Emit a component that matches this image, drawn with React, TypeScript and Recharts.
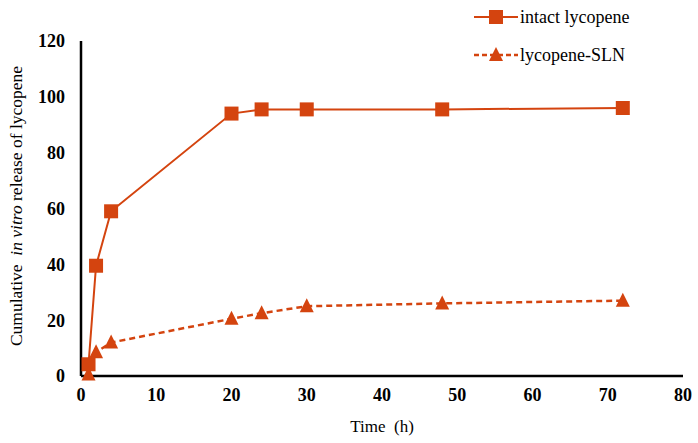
import React from "react";
import {
  LineChart,
  Line,
  XAxis,
  YAxis,
  Label,
} from "recharts";

const timeIntact = [1, 2, 4, 20, 24, 30, 48, 72];
const intactRelease = [4.2, 39.5, 59, 94, 95.5, 95.5, 95.5, 96];
const timeSln = [1, 2, 4, 20, 24, 30, 48, 72];
const slnRelease = [0.5, 8.5, 12, 20.5, 22.5, 25, 26, 27];
const xTicks = [0, 10, 20, 30, 40, 50, 60, 70, 80];
const yTicks = [0, 20, 40, 60, 80, 100, 120];

const COLOR = "#d4440f";
const SERIF = "'Liberation Serif', 'Times New Roman', serif";

const intactData = timeIntact.map((t, i) => ({ t, v: intactRelease[i] }));
const slnData = timeSln.map((t, i) => ({ t, v: slnRelease[i] }));

const SquareDot = (props: any) => {
  const { cx, cy } = props;
  if (cx == null || cy == null) return null;
  return <rect x={cx - 7} y={cy - 7} width={14} height={14} fill={COLOR} />;
};

const TriDot = (props: any) => {
  const { cx, cy } = props;
  if (cx == null || cy == null) return null;
  return (
    <path
      d={`M${cx},${cy - 8} L${cx + 7},${cy + 6} L${cx - 7},${cy + 6} Z`}
      fill={COLOR}
    />
  );
};

const LegendBox = () => (
  <div
    style={{
      position: "absolute",
      left: 474,
      top: 7,
      fontFamily: SERIF,
      fontSize: 18,
      color: "#000",
    }}
  >
    <div style={{ display: "flex", alignItems: "center", height: 20 }}>
      <svg width={44} height={20}>
        <line x1={0} y1={10} x2={44} y2={10} stroke={COLOR} strokeWidth={2} />
        <rect x={15} y={3} width={14} height={14} fill={COLOR} />
      </svg>
      <span style={{ marginLeft: 2 }}>intact lycopene</span>
    </div>
    <div style={{ display: "flex", alignItems: "center", height: 20, marginTop: 18 }}>
      <svg width={44} height={20}>
        <line x1={0} y1={10} x2={44} y2={10} stroke={COLOR} strokeWidth={2.5} strokeDasharray="5 3" />
        <path d="M22,2 L29,16 L15,16 Z" fill={COLOR} />
      </svg>
      <span style={{ marginLeft: 2 }}>lycopene-SLN</span>
    </div>
  </div>
);

const YTitle = () => (
  <text
    x={22}
    y={206}
    transform="rotate(-90 22 206)"
    textAnchor="middle"
    fontFamily={SERIF}
    fontSize={17.5}
    fill="#000"
  >
    <tspan>Cumulative{"\u00a0\u00a0"}</tspan>
    <tspan fontStyle="italic">in vitro</tspan>
    <tspan> release of lycopene</tspan>
  </text>
);

export default function App() {
  return (
    <div style={{ position: "absolute", left: 0, top: 0, background: "#fff", width: 698, height: 443 }}>
      <LineChart
        width={698}
        height={443}
        margin={{ top: 41, right: 15, left: 30, bottom: 37 }}
      >
        <XAxis
          dataKey="t"
          type="number"
          domain={[0, 80]}
          ticks={xTicks}
          tickLine={false}
          axisLine={{ stroke: "#000", strokeWidth: 2.5 }}
          height={30}
          tick={{ fill: "#000", fontFamily: SERIF, fontWeight: "bold", fontSize: 18 }}
          tickMargin={6}
          allowDuplicatedCategory={false}
        >
          <Label
            value={"Time\u00a0\u00a0(h)"}
            position="bottom"
            offset={14}
            style={{ fill: "#000", fontFamily: SERIF, fontSize: 17 }}
          />
        </XAxis>
        <YAxis
          dataKey="v"
          type="number"
          domain={[0, 120]}
          ticks={yTicks}
          tickLine={false}
          axisLine={{ stroke: "#000", strokeWidth: 2.5 }}
          width={51}
          tick={{ fill: "#000", fontFamily: SERIF, fontWeight: "bold", fontSize: 18 }}
          tickMargin={10}
        >
          <Label content={<YTitle />} />
        </YAxis>
        <Line
          data={intactData}
          dataKey="v"
          name="intact lycopene"
          stroke={COLOR}
          strokeWidth={2}
          dot={<SquareDot />}
          activeDot={false}
          isAnimationActive={false}
        />
        <Line
          data={slnData}
          dataKey="v"
          name="lycopene-SLN"
          stroke={COLOR}
          strokeWidth={2.5}
          strokeDasharray="6 4"
          dot={<TriDot />}
          activeDot={false}
          isAnimationActive={false}
        />
      </LineChart>
      <LegendBox />
    </div>
  );
}
